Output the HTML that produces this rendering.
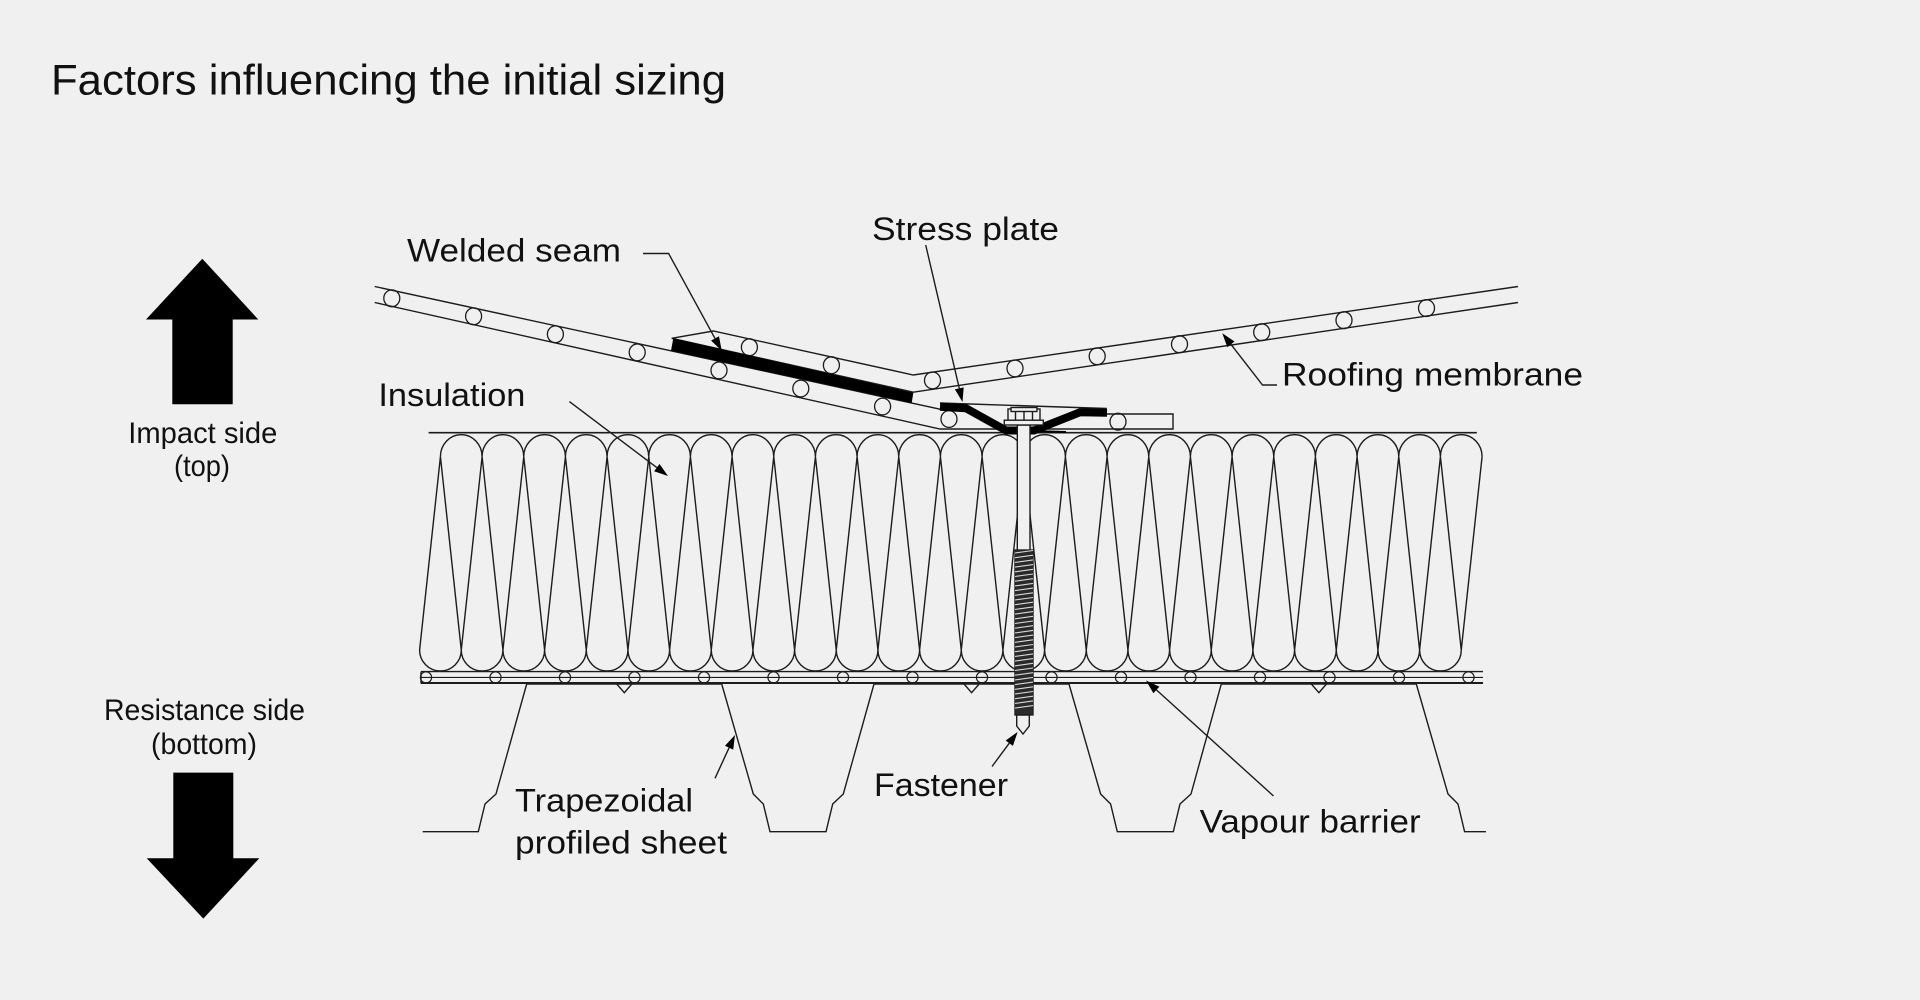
<!DOCTYPE html>
<html>
<head>
<meta charset="utf-8">
<style>
html,body{margin:0;padding:0;background:#f0f0f0;}
svg{display:block;}
text{font-family:"Liberation Sans",Arial,sans-serif;fill:#111;}
</style>
</head>
<body>
<svg width="1920" height="1000" viewBox="0 0 1920 1000" xmlns="http://www.w3.org/2000/svg">
<rect x="0" y="0" width="1920" height="1000" fill="#f0f0f0"/>

<!-- Title -->
<text x="51" y="94.3" font-size="43" textLength="675" lengthAdjust="spacingAndGlyphs">Factors influencing the initial sizing</text>

<!-- Big arrows -->
<polygon points="202.3,258.8 258.3,319.5 232.7,319.5 232.7,404.3 172.3,404.3 172.3,319.5 146,319.5" fill="#000"/>
<polygon points="173.3,772.6 233.3,772.6 233.3,858.3 259.3,858.3 203.3,918.6 146.7,858.3 173.3,858.3" fill="#000"/>

<!-- side labels -->
<text x="128.3" y="443" font-size="30" textLength="149" lengthAdjust="spacingAndGlyphs">Impact side</text>
<text x="174" y="476" font-size="30" textLength="56" lengthAdjust="spacingAndGlyphs">(top)</text>
<text x="104" y="720" font-size="30" textLength="201" lengthAdjust="spacingAndGlyphs">Resistance side</text>
<text x="151" y="754" font-size="30" textLength="106" lengthAdjust="spacingAndGlyphs">(bottom)</text>

<g fill="none" stroke="#1c1c1c" stroke-width="1.4" stroke-linejoin="miter">
<!-- Insulation top line -->
<line x1="428.6" y1="432.7" x2="1476.8" y2="432.7" stroke-width="1.6"/>
<!-- top arcs -->
<path d="M440.4 456.7 a20.833 22 0 0 1 41.667 0 a20.833 22 0 0 1 41.667 0 a20.833 22 0 0 1 41.667 0 a20.833 22 0 0 1 41.667 0 a20.833 22 0 0 1 41.667 0 a20.833 22 0 0 1 41.667 0 a20.833 22 0 0 1 41.667 0 a20.833 22 0 0 1 41.667 0 a20.833 22 0 0 1 41.667 0 a20.833 22 0 0 1 41.667 0 a20.833 22 0 0 1 41.667 0 a20.833 22 0 0 1 41.667 0 a20.833 22 0 0 1 41.667 0 a20.833 22 0 0 1 41.667 0 a20.833 22 0 0 1 41.667 0 a20.833 22 0 0 1 41.667 0 a20.833 22 0 0 1 41.667 0 a20.833 22 0 0 1 41.667 0 a20.833 22 0 0 1 41.667 0 a20.833 22 0 0 1 41.667 0 a20.833 22 0 0 1 41.667 0 a20.833 22 0 0 1 41.667 0 a20.833 22 0 0 1 41.667 0 a20.833 22 0 0 1 41.667 0 a20.833 22 0 0 1 41.667 0"/>
<!-- bottom arcs -->
<path d="M419.6 650 a20.833 21 0 0 0 41.667 0 a20.833 21 0 0 0 41.667 0 a20.833 21 0 0 0 41.667 0 a20.833 21 0 0 0 41.667 0 a20.833 21 0 0 0 41.667 0 a20.833 21 0 0 0 41.667 0 a20.833 21 0 0 0 41.667 0 a20.833 21 0 0 0 41.667 0 a20.833 21 0 0 0 41.667 0 a20.833 21 0 0 0 41.667 0 a20.833 21 0 0 0 41.667 0 a20.833 21 0 0 0 41.667 0 a20.833 21 0 0 0 41.667 0 a20.833 21 0 0 0 41.667 0 a20.833 21 0 0 0 41.667 0 a20.833 21 0 0 0 41.667 0 a20.833 21 0 0 0 41.667 0 a20.833 21 0 0 0 41.667 0 a20.833 21 0 0 0 41.667 0 a20.833 21 0 0 0 41.667 0 a20.833 21 0 0 0 41.667 0 a20.833 21 0 0 0 41.667 0 a20.833 21 0 0 0 41.667 0 a20.833 21 0 0 0 41.667 0 a20.833 21 0 0 0 41.667 0"/>
<!-- zigzag -->
<path d="M419.6 650 l20.833 -193.3 l20.833 193.3 l20.833 -193.3 l20.833 193.3 l20.833 -193.3 l20.833 193.3 l20.833 -193.3 l20.833 193.3 l20.833 -193.3 l20.833 193.3 l20.833 -193.3 l20.833 193.3 l20.833 -193.3 l20.833 193.3 l20.833 -193.3 l20.833 193.3 l20.833 -193.3 l20.833 193.3 l20.833 -193.3 l20.833 193.3 l20.833 -193.3 l20.833 193.3 l20.833 -193.3 l20.833 193.3 l20.833 -193.3 l20.833 193.3 l20.833 -193.3 l20.833 193.3 l20.833 -193.3 l20.833 193.3 l20.833 -193.3 l20.833 193.3 l20.833 -193.3 l20.833 193.3 l20.833 -193.3 l20.833 193.3 l20.833 -193.3 l20.833 193.3 l20.833 -193.3 l20.833 193.3 l20.833 -193.3 l20.833 193.3 l20.833 -193.3 l20.833 193.3 l20.833 -193.3 l20.833 193.3 l20.833 -193.3 l20.833 193.3 l20.833 -193.3 l20.833 193.3 l20.833 -193.3"/>

<!-- Vapour barrier -->
<line x1="421" y1="671.6" x2="1483" y2="671.6"/>
<line x1="421" y1="677.4" x2="1483" y2="677.4" stroke-width="1.1"/>
<line x1="421" y1="683" x2="1483" y2="683" stroke-width="2"/>
<line x1="421" y1="671.6" x2="421" y2="683.5"/>
<g stroke-width="1.2">
<circle cx="426" cy="677.4" r="5.6"/><circle cx="495.5" cy="677.4" r="5.6"/><circle cx="565" cy="677.4" r="5.6"/><circle cx="634.5" cy="677.4" r="5.6"/><circle cx="704" cy="677.4" r="5.6"/><circle cx="773.5" cy="677.4" r="5.6"/><circle cx="843" cy="677.4" r="5.6"/><circle cx="912.5" cy="677.4" r="5.6"/><circle cx="982" cy="677.4" r="5.6"/><circle cx="1051.5" cy="677.4" r="5.6"/><circle cx="1121" cy="677.4" r="5.6"/><circle cx="1190.5" cy="677.4" r="5.6"/><circle cx="1260" cy="677.4" r="5.6"/><circle cx="1329.5" cy="677.4" r="5.6"/><circle cx="1399" cy="677.4" r="5.6"/><circle cx="1468.5" cy="677.4" r="5.6"/>
</g>
<!-- notches -->
<path d="M616.3 683.5 L624.3 692.7 L632.3 683.5 M963.6 683.5 L971.6 692.7 L979.6 683.5 M1310.9 683.5 L1318.9 692.7 L1326.9 683.5"/>

<!-- Trapezoidal profiled sheet -->
<path d="M422.7 831.7 H478.3 L485 804 L496 794 L526.7 684 H721.7 L753.3 794 L763.3 804 L770 831.7 H826 L832.7 804 L843.3 794 L874 684 H1069 L1100.6 794 L1110.6 804 L1117.3 831.7 H1173.3 L1180 804 L1191 794 L1221.3 684 H1416.3 L1448 794 L1458 804 L1464.6 831.7 H1486"/>

<!-- Lower (left) membrane -->
<path d="M374.7 286.5 L940 409.2"/>
<path d="M940 403 L1106.7 408.5"/>
<path d="M374.7 302.5 L940 429 H1173 V414 H1106.7"/>
<!-- Upper (right) membrane -->
<path d="M671.7 338.3 L713.3 331 L913.3 375 L1518 286.5"/>
<path d="M671.7 338.3 L913.3 392.2 L1518 302.5"/>

<!-- membrane circles -->
<g stroke-width="1.3">
<ellipse cx="391.8" cy="298.3" rx="8" ry="8.4"/>
<ellipse cx="473.6" cy="316.3" rx="8" ry="8.4"/>
<ellipse cx="555.4" cy="334.3" rx="8" ry="8.4"/>
<ellipse cx="637.2" cy="352.4" rx="8" ry="8.4"/>
<ellipse cx="719" cy="370.4" rx="8" ry="8.4"/>
<ellipse cx="800.8" cy="388.5" rx="8" ry="8.4"/>
<ellipse cx="882.6" cy="406.5" rx="8" ry="8.4"/>
<ellipse cx="949" cy="419" rx="8" ry="8.4"/>
<ellipse cx="1118" cy="421.7" rx="8" ry="8.4"/>
<ellipse cx="749.4" cy="347.2" rx="8" ry="8.4"/>
<ellipse cx="831.4" cy="365.2" rx="8" ry="8.4"/>
<ellipse cx="932.5" cy="380.4" rx="8" ry="8.4"/>
<ellipse cx="1015" cy="368.4" rx="8" ry="8.4"/>
<ellipse cx="1097.2" cy="356.3" rx="8" ry="8.4"/>
<ellipse cx="1179.5" cy="344.2" rx="8" ry="8.4"/>
<ellipse cx="1261.7" cy="332.2" rx="8" ry="8.4"/>
<ellipse cx="1344" cy="320.2" rx="8" ry="8.4"/>
<ellipse cx="1426.5" cy="308.1" rx="8" ry="8.4"/>
</g>
</g>

<!-- welded seam bar -->
<polygon points="673.3,338.3 913.3,392.7 911.7,403 671,350.7" fill="#000"/>

<!-- stress plate -->
<polyline points="940,406.7 966,408.3 1006,430.5 1034,430.5 1080,412.3 1107,412.8" fill="none" stroke="#000" stroke-width="8" stroke-linejoin="miter"/>
<line x1="1030" y1="431" x2="1066" y2="432" stroke="#000" stroke-width="2"/>

<!-- fastener -->
<g stroke="#1c1c1c" stroke-width="1.4">
<rect x="1017.3" y="425" width="12.7" height="126" fill="#f0f0f0"/>
<rect x="1015" y="550" width="18" height="165" fill="#2a2a2a" stroke="#222"/>
<path d="M1015 553 l18 -2.5 m-18 7.2 l18 -2.5 m-18 7.2 l18 -2.5 m-18 7.2 l18 -2.5 m-18 7.2 l18 -2.5 m-18 7.2 l18 -2.5 m-18 7.2 l18 -2.5 m-18 7.2 l18 -2.5 m-18 7.2 l18 -2.5 m-18 7.2 l18 -2.5 m-18 7.2 l18 -2.5 m-18 7.2 l18 -2.5 m-18 7.2 l18 -2.5 m-18 7.2 l18 -2.5 m-18 7.2 l18 -2.5 m-18 7.2 l18 -2.5 m-18 7.2 l18 -2.5 m-18 7.2 l18 -2.5 m-18 7.2 l18 -2.5 m-18 7.2 l18 -2.5 m-18 7.2 l18 -2.5 m-18 7.2 l18 -2.5 m-18 7.2 l18 -2.5 m-18 7.2 l18 -2.5 m-18 7.2 l18 -2.5 m-18 7.2 l18 -2.5 m-18 7.2 l18 -2.5 m-18 7.2 l18 -2.5 m-18 7.2 l18 -2.5 m-18 7.2 l18 -2.5 m-18 7.2 l18 -2.5 m-18 7.2 l18 -2.5 m-18 7.2 l18 -2.5 m-18 7.2 l18 -2.5" fill="none" stroke="#d8d8d8" stroke-width="1.1"/>
<polygon points="1016.7,715 1029.3,715 1029.3,726 1023,734 1016.7,726" fill="#f0f0f0"/>
<rect x="1008" y="409" width="32" height="11.5" fill="#f0f0f0"/>
<rect x="1011" y="407.5" width="26" height="4" fill="#f0f0f0"/>
<path d="M1015.5 411.5 V420.5 M1024 411.5 V420.5 M1032.5 411.5 V420.5" fill="none"/>
<rect x="1004.3" y="420.2" width="39" height="4.8" fill="#f0f0f0"/>
</g>

<!-- leaders -->
<g stroke="#1c1c1c" stroke-width="1.4" fill="none">
<path d="M643 253.5 H668.6 L715 338.4"/>
<path d="M925.7 245 L959.3 388.4"/>
<path d="M1277 385 H1262.5 L1230.9 344.3"/>
<path d="M569.4 401.6 L656.8 467.6"/>
<path d="M992 766.5 L1009.3 743.2"/>
<path d="M715 778.3 L729.1 747.7"/>
<path d="M1273.5 796 L1156.4 689.9"/>
</g>
<g fill="#000">
<polygon points="721.7,350.7 711.1,340.6 719,336.2"/>
<polygon points="962.5,402 954.9,389.4 963.7,387.4"/>
<polygon points="1222.3,333.3 1234.5,341.5 1227.3,347.1"/>
<polygon points="668,476 654.1,471.2 659.5,464"/>
<polygon points="1017.6,732 1012.9,745.9 1005.7,740.5"/>
<polygon points="735,735 733.2,749.6 725,745.8"/>
<polygon points="1146,680.5 1159.4,686.6 1153.4,693.2"/>
</g>

<!-- labels -->
<text x="407" y="261.7" font-size="32" textLength="214" lengthAdjust="spacingAndGlyphs">Welded seam</text>
<text x="872" y="240" font-size="32" textLength="187" lengthAdjust="spacingAndGlyphs">Stress plate</text>
<text x="1282" y="385.5" font-size="32" textLength="301" lengthAdjust="spacingAndGlyphs">Roofing membrane</text>
<text x="378.4" y="406" font-size="32" textLength="147" lengthAdjust="spacingAndGlyphs">Insulation</text>
<text x="874" y="796" font-size="32" textLength="134" lengthAdjust="spacingAndGlyphs">Fastener</text>
<text x="1199.6" y="832.7" font-size="32" textLength="221" lengthAdjust="spacingAndGlyphs">Vapour barrier</text>
<text x="515" y="811.7" font-size="32" textLength="178" lengthAdjust="spacingAndGlyphs">Trapezoidal</text>
<text x="515" y="853.7" font-size="32" textLength="212" lengthAdjust="spacingAndGlyphs">profiled sheet</text>
</svg>
</body>
</html>
